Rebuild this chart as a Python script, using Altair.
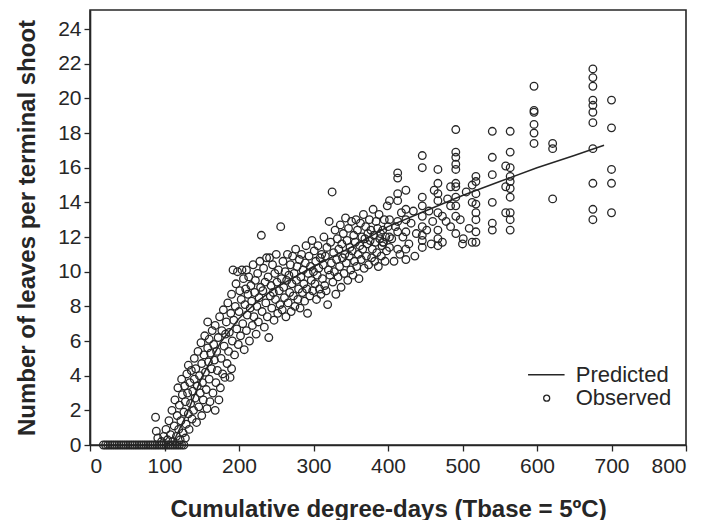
import altair as alt
import pandas as pd

# ---- axis ticks ----
x_ticks = [0, 100, 200, 300, 400, 500, 600, 700, 800]
y_ticks = [0, 2, 4, 6, 8, 10, 12, 14, 16, 18, 20, 22, 24]

# ---- observed: shoots with no leaves yet (y = 0) ----
zero_x = [18, 21, 24, 27, 30, 33, 36, 39, 42, 45, 48, 51, 54, 57, 60, 63, 66, 69,
          72, 75, 78, 81, 84, 87, 90, 93, 96, 99, 102, 105, 108, 111, 114, 117,
          120, 123, 126]

# ---- observed: early rise (x 88-224) ----
rise_pts = [
    (88, 1.6), (89, 0.8), (91, 0.4), (96, 0.2), (99, 0.5), (102, 0.9), (104, 0.3),
    (106, 1.4), (108, 0.6), (110, 2.0), (111, 0.2), (113, 1.1), (114, 2.6), (116, 0.5),
    (117, 1.7), (118, 3.3), (119, 0.9), (120, 2.3), (121, 0.3), (122, 1.4), (123, 3.8),
    (124, 2.9), (125, 0.7), (126, 1.9), (127, 3.4), (128, 0.4), (128, 2.5), (129, 1.2),
    (130, 4.1), (131, 3.0), (132, 4.6), (132, 1.8), (133, 0.9), (134, 3.6), (135, 2.4),
    (136, 4.3), (137, 1.5), (138, 3.1), (139, 2.0), (140, 5.0), (140, 3.8), (141, 2.7),
    (142, 4.4), (143, 1.3), (144, 3.4), (145, 5.4), (146, 2.2), (147, 4.0), (148, 3.0),
    (149, 5.9), (150, 1.7), (150, 4.7), (151, 3.6), (152, 2.6), (153, 5.2), (154, 6.3),
    (155, 4.2), (156, 3.2), (157, 2.1), (158, 7.1), (158, 5.6), (159, 4.8), (160, 6.1),
    (160, 3.8), (161, 2.5), (162, 5.3), (163, 4.4), (164, 6.6), (165, 3.0), (166, 5.8),
    (167, 4.9), (168, 2.0), (168, 6.9), (169, 3.6), (170, 5.4), (171, 4.3), (172, 6.2),
    (173, 2.6), (174, 7.4), (175, 3.3), (176, 5.0), (177, 6.6), (178, 4.1), (179, 7.8),
    (180, 5.7), (181, 3.9), (182, 6.4), (183, 7.1), (184, 4.7), (185, 8.2), (186, 5.4),
    (187, 6.5), (188, 3.9), (189, 7.6), (190, 4.4), (190, 8.7), (191, 6.0), (192, 10.1),
    (193, 7.2), (194, 5.2), (195, 8.0), (196, 9.3), (197, 6.7), (198, 10.0), (199, 5.8),
    (200, 7.7), (201, 8.9), (202, 6.3), (203, 8.4), (204, 10.1), (205, 7.0), (206, 9.6),
    (207, 5.5), (208, 8.1), (209, 9.0), (210, 6.6), (210, 10.1), (211, 7.5), (212, 8.7),
    (213, 9.7), (214, 6.0), (215, 7.9), (216, 9.2), (217, 8.3), (218, 6.9), (219, 10.4),
    (220, 7.4), (221, 8.8), (222, 9.5), (223, 6.4), (224, 8.0),
]

# ---- observed: middle band (x 225-400) ----
mid_pts = [
    (225, 9.9), (226, 7.1), (227, 8.5), (228, 10.6), (229, 9.1), (230, 12.1), (231, 7.7),
    (232, 8.9), (233, 10.2), (234, 6.8), (235, 9.4), (236, 8.2), (237, 10.8), (238, 7.4),
    (239, 9.7), (240, 6.2), (241, 10.8), (242, 8.6), (243, 9.2), (244, 7.9), (245, 10.4),
    (246, 8.8), (247, 7.2), (248, 9.9), (249, 8.4), (250, 11.0), (251, 9.4), (252, 7.6),
    (253, 10.1), (254, 8.9), (255, 8.1), (256, 12.6), (257, 9.6), (258, 7.8), (259, 10.6),
    (260, 9.1), (261, 8.5), (262, 10.0), (263, 7.4), (264, 9.5), (265, 11.0), (266, 8.2),
    (267, 9.8), (268, 8.8), (269, 10.4), (270, 7.7), (271, 9.3), (272, 10.9), (273, 8.6),
    (274, 9.9), (275, 8.0), (276, 11.3), (277, 9.5), (278, 10.3), (279, 8.4), (280, 9.0),
    (281, 10.7), (282, 7.9), (283, 9.7), (284, 11.0), (285, 8.8), (286, 10.1), (287, 9.3),
    (288, 8.3), (289, 10.5), (290, 11.5), (291, 9.0), (292, 7.6), (293, 9.9), (294, 10.9),
    (295, 8.6), (296, 10.3), (297, 9.5), (298, 11.8), (299, 8.9), (300, 10.0), (301, 11.2),
    (302, 9.3), (303, 10.6), (304, 8.4), (305, 9.8), (306, 11.5), (307, 10.2), (308, 9.0),
    (309, 10.8), (310, 8.7), (311, 11.0), (312, 9.6), (313, 10.4), (314, 12.0), (315, 9.2),
    (316, 10.9), (317, 8.9), (318, 11.4), (319, 8.1), (320, 10.1), (321, 12.9), (322, 9.8),
    (323, 11.7), (324, 10.5), (325, 14.6), (326, 9.4), (327, 11.1), (328, 10.0), (329, 12.4),
    (330, 8.7), (331, 10.7), (332, 11.9), (333, 9.7), (334, 11.3), (335, 10.3), (336, 12.7),
    (337, 9.1), (338, 11.6), (339, 10.8), (340, 12.2), (341, 9.9), (342, 11.0), (343, 13.1),
    (344, 10.5), (345, 11.8), (346, 9.5), (347, 12.5), (348, 10.9), (349, 11.4), (350, 10.1),
    (351, 12.9), (352, 11.2), (353, 9.8), (354, 12.1), (355, 10.6), (356, 11.7), (357, 13.0),
    (358, 10.3), (359, 12.4), (360, 11.0), (361, 9.6), (362, 11.5), (363, 12.8), (364, 10.7),
    (365, 12.0), (366, 11.3), (367, 13.3), (368, 10.2), (369, 11.9), (370, 12.6), (371, 10.9),
    (372, 11.6), (373, 12.2), (374, 10.4), (375, 13.0), (376, 11.8), (377, 12.4), (378, 10.8),
    (379, 11.3), (380, 13.6), (381, 12.1), (382, 10.6), (383, 11.7), (384, 12.9), (385, 11.1),
    (386, 12.5), (387, 10.3), (388, 13.3), (389, 11.9), (390, 12.2), (391, 10.9), (392, 11.5),
    (394, 11.7), (395, 13.0), (396, 10.6), (397, 12.0), (398, 11.2), (399, 13.8), (400, 12.6),
]

# ---- observed: late sampling columns (x 393-700) ----
late_pts = [
    (393, 12.4), (393, 11.7),
    (402, 14.1), (402, 13.0), (402, 12.0), (402, 11.4),
    (405, 11.9), (408, 10.6), (410, 12.6),
    (413, 15.7), (413, 15.4), (413, 14.5), (413, 14.1), (413, 12.9), (413, 12.3), (413, 11.3),
    (416, 11.0), (418, 13.4), (420, 12.0),
    (424, 14.7), (424, 13.6), (424, 13.0), (424, 12.3), (424, 11.3), (424, 10.7),
    (428, 11.6), (431, 12.8), (434, 13.5), (436, 10.9), (438, 12.2),
    (446, 16.7), (446, 16.0), (446, 14.3), (446, 13.8), (446, 13.2), (446, 12.6),
    (446, 12.1), (446, 11.8), (446, 11.4),
    (452, 12.4), (455, 13.5), (458, 11.6), (460, 12.9), (462, 14.7),
    (467, 15.9), (467, 15.1), (467, 14.5), (467, 14.1), (467, 13.4), (467, 12.4),
    (467, 11.9), (467, 11.5),
    (473, 13.2), (473, 11.7), (478, 12.9), (480, 14.2),
    (484, 14.9), (484, 13.8), (484, 12.6),
    (491, 18.2), (491, 16.9), (491, 16.6), (491, 16.2), (491, 15.9), (491, 15.1),
    (491, 14.9), (491, 14.3), (491, 13.8), (491, 13.2), (491, 12.2),
    (497, 13.0), (500, 11.6), (501, 11.9), (505, 14.6), (509, 12.5),
    (513, 15.0), (513, 14.0), (513, 11.7),
    (518, 15.5), (518, 15.2), (518, 14.5), (518, 13.9), (518, 13.4), (518, 13.0),
    (518, 12.3), (518, 11.7),
    (540, 18.1), (540, 16.6), (540, 15.6), (540, 14.0), (540, 12.8), (540, 12.4),
    (558, 16.1), (558, 14.9), (558, 13.4),
    (564, 18.1), (564, 16.9), (564, 16.0), (564, 15.5), (564, 15.2), (564, 14.8),
    (564, 14.3), (564, 13.4), (564, 13.0), (564, 12.4),
    (596, 20.7), (596, 19.3), (596, 19.2), (596, 18.5), (596, 18.0), (596, 17.4),
    (621, 17.4), (621, 17.1), (621, 14.2),
    (675, 21.7), (675, 21.2), (675, 20.7), (675, 19.9), (675, 19.6), (675, 19.2),
    (675, 18.6), (675, 17.1), (675, 15.1), (675, 13.6), (675, 13.0),
    (700, 19.9), (700, 18.3), (700, 15.9), (700, 15.1), (700, 13.4),
]

# ---- predicted curve ----
pred_x = [110, 130, 150, 175, 200, 225, 250, 275, 300, 350, 400, 450, 500, 550, 600, 650, 690]
pred_y = [0.0, 1.8, 3.9, 5.9, 7.3, 8.3, 9.1, 9.7, 10.3, 11.4, 12.6, 13.5, 14.4, 15.2, 16.0, 16.7, 17.3]

# ---- legend entries (placed in data units, lower right of the plot) ----
legend_labels = ["Predicted", "Observed"]
legend_rows_y = [4.05, 2.7]
legend_line_x = [588, 637]
legend_symbol_x = 613
legend_text_x = 652

obs_x = zero_x + [p[0] for p in rise_pts + mid_pts + late_pts]
obs_y = [0.0] * len(zero_x) + [p[1] for p in rise_pts + mid_pts + late_pts]
df_obs = pd.DataFrame({"x": obs_x, "y": obs_y})
df_pred = pd.DataFrame({"x": pred_x, "y": pred_y})
df_leg_line = pd.DataFrame({"x": [legend_line_x[0]], "x2": [legend_line_x[1]], "y": [legend_rows_y[0]]})
df_leg_pt = pd.DataFrame({"x": [legend_symbol_x], "y": [legend_rows_y[1]]})
df_leg_txt = pd.DataFrame({"x": [legend_text_x] * 2, "y": legend_rows_y, "label": legend_labels})

FONT = "Liberation Sans"
INK = "#262626"

xs = alt.Scale(domain=[0, 800], nice=False, zero=False)
ys = alt.Scale(domain=[0, 25.1], nice=False)

x_axis = alt.Axis(values=x_ticks, title="Cumulative degree-days (Tbase = 5ºC)",
                  labelPadding=4, titlePadding=21, labelOverlap=False)
y_axis = alt.Axis(values=y_ticks, title="Number of leaves per terminal shoot",
                  labelPadding=3, titlePadding=18, labelOverlap=False, labelBound=False)

x_enc = alt.X("x:Q", scale=xs, axis=x_axis)
y_enc = alt.Y("y:Q", scale=ys, axis=y_axis)

points = alt.Chart(df_obs).mark_point(
    filled=False, size=58, strokeWidth=1.3, color=INK, opacity=1
).encode(x=x_enc, y=y_enc)

line = alt.Chart(df_pred).mark_line(color=INK, strokeWidth=1.5).encode(
    x=x_enc, y=y_enc
)

leg_line = alt.Chart(df_leg_line).mark_rule(color=INK, strokeWidth=1.5).encode(
    x=x_enc, x2="x2:Q", y=y_enc
)
leg_pt = alt.Chart(df_leg_pt).mark_point(
    filled=False, size=36, strokeWidth=1.3, color=INK, opacity=1
).encode(x=x_enc, y=y_enc)
leg_txt = alt.Chart(df_leg_txt).mark_text(
    align="left", baseline="middle", font=FONT, fontSize=22, color=INK
).encode(x=x_enc, y=y_enc, text="label:N")

chart = alt.layer(points, line, leg_line, leg_pt, leg_txt).properties(
    width=596, height=435,
    autosize=alt.AutoSizeParams(type="none"),
    padding={"left": 90, "top": 10, "right": 26, "bottom": 75},
).configure_view(
    stroke=INK, strokeWidth=1.6
).configure_axis(
    grid=False, labelFont=FONT, labelFontSize=21, labelColor=INK, labelOverlap=False,
    titleFont=FONT, titleFontSize=24, titleFontWeight="bold", titleColor=INK,
    domainColor=INK, domainWidth=1.6, tickColor=INK, tickSize=6, tickWidth=1.3,
)

chart.save("out.html", embed_options={"renderer": "svg", "actions": False})
